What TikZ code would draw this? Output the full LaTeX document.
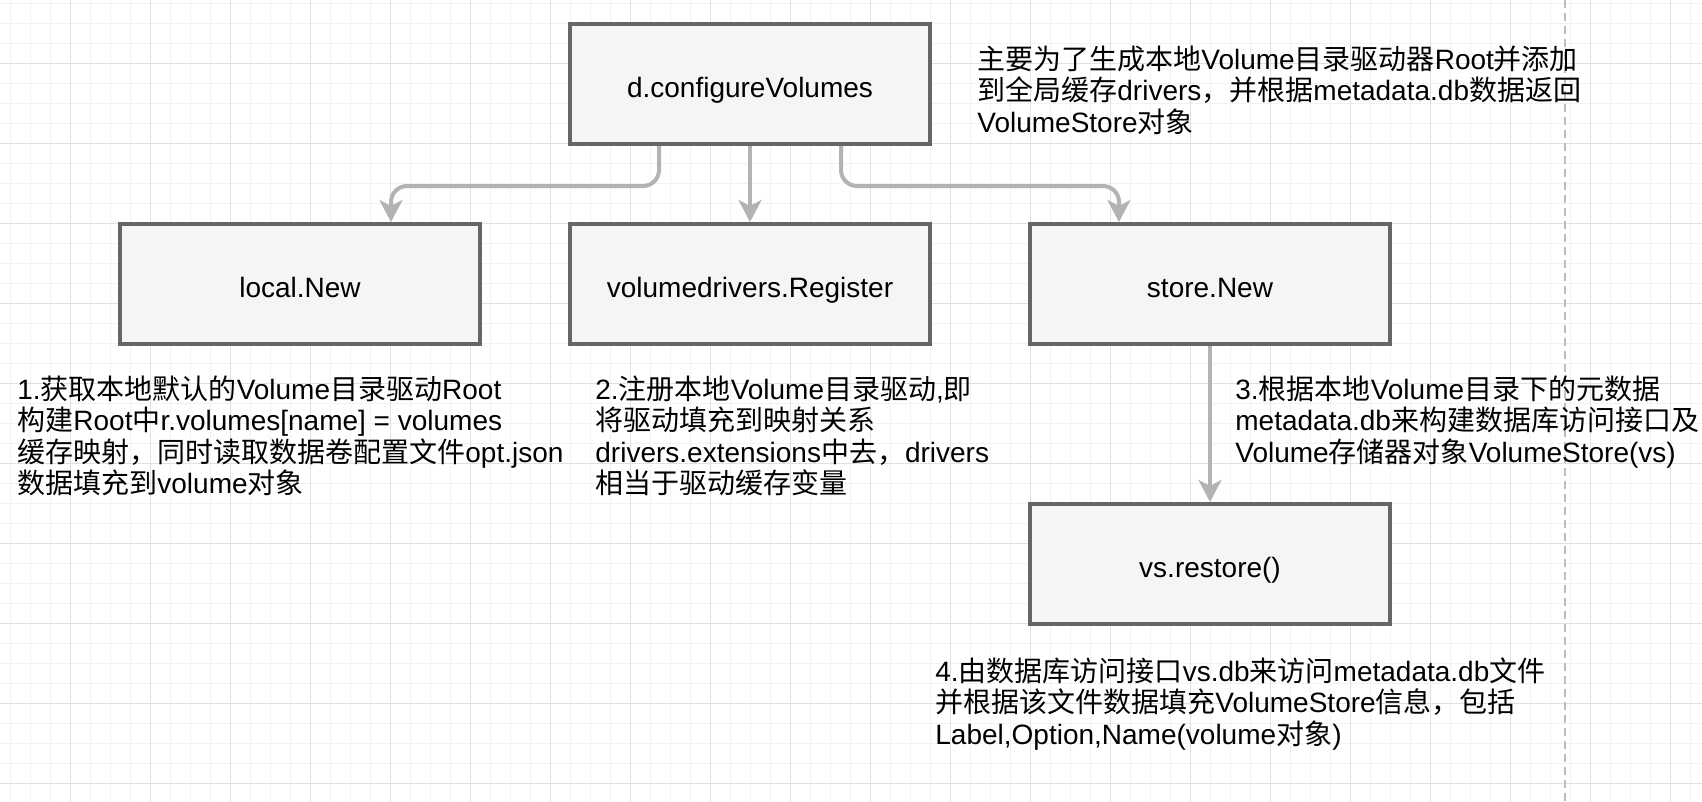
\documentclass[tikz,border=0pt]{standalone}
\usepackage{fontspec}
\setmainfont{Liberation Sans}
\newfontfamily\cjkfont{Noto Sans CJK SC}
\newcommand{\zh}[1]{{\cjkfont #1}}
\usetikzlibrary{arrows.meta,calc}
\definecolor{boxfill}{HTML}{F5F5F5}
\definecolor{boxline}{HTML}{666666}
\definecolor{linkgray}{HTML}{B3B3B3}
\definecolor{gridminor}{HTML}{F2F2F2}
\definecolor{gridmajor}{HTML}{E0E0E0}
\definecolor{sepgray}{HTML}{BDBDBD}

\begin{document}
\begin{tikzpicture}[x=0.5bp, y=-0.5bp,
    font=\fontsize{14bp}{15.8bp}\selectfont,
    func/.style={draw=boxline, line width=2bp, fill=boxfill, minimum width=180bp, minimum height=60bp, inner sep=0pt, text height=13bp, text depth=0pt},
    note/.style={anchor=north west, align=left, inner sep=0pt},
    link/.style={draw=linkgray, line width=2bp, rounded corners=8bp, -{Stealth[length=11bp, width=11.5bp, inset=3bp]}}]
        % background and grid
        \fill[white] (0,0) rectangle (1702,802);
        \useasboundingbox (0,0) rectangle (1702,802);
        \foreach \gx in {10,30,...,1690} \draw[gridminor, line width=0.5bp] (\gx,0) -- (\gx,802);
        \foreach \gy in {3,23,...,783} \draw[gridminor, line width=0.5bp] (0,\gy) -- (1702,\gy);
        \foreach \gx in {70,150,...,1670} \draw[gridmajor, line width=0.5bp] (\gx,0) -- (\gx,802);
        \foreach \gy in {63,143,...,783} \draw[gridmajor, line width=0.5bp] (0,\gy) -- (1702,\gy);
        \draw[sepgray, line width=1bp, dash pattern=on 4bp off 2.5bp] (1565,0) -- (1565,802);

        % function boxes
        \node[func] (cfg) at (750,84) {d.configureVolumes};
        \node[func] (loc) at (300,284) {local.New};
        \node[func] (reg) at (750,284) {volumedrivers.Register};
        \node[func] (store) at (1210,284) {store.New};
        \node[func] (vs) at (1210,564) {vs.restore()};

        % connectors
        \draw[link] ($(cfg.south west)!.25!(cfg.south east)$) -- ++(0,40) -| ($(loc.north west)!.75!(loc.north east)$);
        \draw[link] (cfg) -- (reg);
        \draw[link] ($(cfg.south west)!.75!(cfg.south east)$) -- ++(0,40) -| ($(store.north west)!.25!(store.north east)$);
        \draw[link] (store) -- (vs);

        % notes
        \node[note] (noteMain) at (977,45) {\zh{主要为了生成本地}Volume\zh{目录驱动器}Root\zh{并添加}\\
            \zh{到全局缓存}drivers\zh{，并根据}metadata.db\zh{数据返回}\\
            VolumeStore\zh{对象}};
        \node[note] (note1) at (17,375) {1.\zh{获取本地默认的}Volume\zh{目录驱动}Root\\
            \zh{构建}Root\zh{中}r.volumes[name] = volumes\\
            \zh{缓存映射，同时读取数据卷配置文件}opt.json\\
            \zh{数据填充到}volume\zh{对象}};
        \node[note] (note2) at (595,375) {2.\zh{注册本地}Volume\zh{目录驱动},\zh{即}\\
            \zh{将驱动填充到映射关系}\\
            drivers.extensions\zh{中去，}drivers\\
            \zh{相当于驱动缓存变量}};
        \node[note] (note3) at (1235,375) {3.\zh{根据本地}Volume\zh{目录下的元数据}\\
            metadata.db\zh{来构建数据库访问接口及}\\
            Volume\zh{存储器对象}VolumeStore(vs)};
        \node[note] (note4) at (935,657) {4.\zh{由数据库访问接口}vs.db\zh{来访问}metadata.db\zh{文件}\\
            \zh{并根据该文件数据填充}VolumeStore\zh{信息，包括}\\
            Label,Option,Name(volume\zh{对象})};
    \end{tikzpicture}
\end{document}
